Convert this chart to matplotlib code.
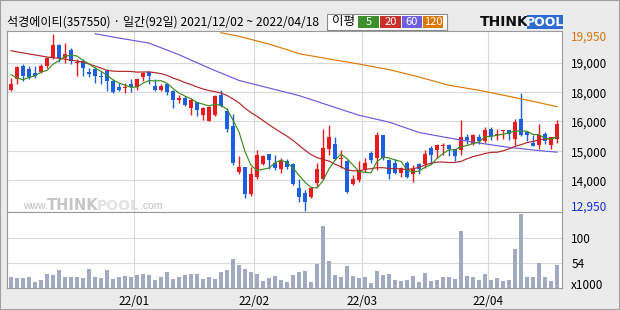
import numpy as np
import pandas as pd
import matplotlib
matplotlib.use("Agg")
import matplotlib.pyplot as plt
from matplotlib.patches import Rectangle
from matplotlib import transforms

plt.rcParams['font.family'] = ['Noto Sans CJK KR', 'DejaVu Sans']

# ============================================================
# DATA  (daily candles, 2021/12/02 ~ 2022/04/18, KRX trading days)
# ============================================================
HOLIDAYS = ["2021-12-31", "2022-01-31", "2022-02-01", "2022-02-02",
            "2022-03-01", "2022-03-09"]
dates = pd.bdate_range("2021-12-02", "2022-04-18")
dates = dates[~dates.isin(pd.to_datetime(HOLIDAYS))]

opens = [17750, 18150, 18700, 18550, 18400, 18450, 18700, 19050, 19500, 19000,
         19300, 18800, 18900, 18450, 18550, 18300, 18500, 18100, 17850, 17800,
         17950, 17850, 18250, 18450, 17900, 17750, 17950, 17700, 17350, 17400,
         17000, 17250, 16750, 16500, 16750, 17550, 16900, 16300, 14500, 14700,
         13600, 14300, 14800, 15200, 14850, 14600, 14900, 14800, 13850, 13650,
         13500, 14050, 14200, 15400, 15600, 15000, 14900, 14000, 14150, 14600,
         15250, 15050, 15950, 14950, 14850, 14450, 14850, 14400, 14800, 14800,
         15450, 15350, 15500, 15550, 15400, 15350, 15850, 15600, 15850, 15700,
         16200, 15950, 16100, 16150, 15800, 16600, 16050, 15650, 15550, 16000,
         15550, 15800]
highs = [18200, 18700, 18750, 18700, 18700, 18750, 19050, 19950, 19550, 19600,
         19400, 18950, 18950, 18600, 18650, 18500, 18550, 18150, 18000, 18000,
         18150, 18200, 18450, 18500, 18150, 17950, 18000, 17750, 17550, 17500,
         17400, 17250, 17050, 17100, 17550, 17750, 17000, 16800, 15100, 14700,
         14700, 15350, 15150, 15200, 15150, 15050, 15000, 14850, 14200, 13750,
         13900, 14850, 16200, 16350, 15850, 15350, 14950, 14350, 14900, 15050,
         15300, 16050, 15950, 15000, 15000, 14700, 14900, 14750, 14850, 15350,
         15500, 15600, 15650, 15600, 15400, 16550, 16000, 16000, 16000, 16250,
         16250, 16200, 16150, 16150, 16600, 17600, 16100, 15950, 16400, 16050,
         15850, 16550]
lows = [17700, 17950, 18100, 18150, 18200, 18400, 18600, 18950, 18850, 18800,
        18750, 18300, 18300, 18250, 18000, 17950, 17700, 17600, 17700, 17600,
        17650, 17750, 18100, 17950, 17700, 17700, 17550, 17000, 17200, 17100,
        16750, 16700, 16550, 16500, 16700, 17050, 16050, 14750, 14400, 13450,
        13550, 14200, 14750, 14600, 14550, 14450, 14600, 13950, 13300, 12950,
        13450, 13900, 14150, 15150, 14950, 14650, 13650, 13950, 14100, 14500,
        14850, 14550, 14950, 14200, 14400, 14300, 14250, 14100, 14400, 14650,
        14800, 15050, 15150, 15100, 14900, 15150, 15600, 15550, 15600, 15650,
        15750, 15750, 15800, 15750, 15550, 15900, 15700, 15500, 15400, 15600,
        15400, 15650]
closes = [17950, 18650, 18300, 18250, 18300, 18700, 19000, 19500, 19000, 19150,
          18900, 18850, 18600, 18350, 18300, 18250, 18100, 17650, 17750, 17850,
          17850, 18150, 18400, 18300, 17750, 17900, 17650, 17350, 17400, 17150,
          17350, 16950, 17000, 17050, 17500, 17100, 16200, 14850, 14700, 13600,
          14400, 15150, 15100, 14950, 14650, 14900, 14700, 14000, 13500, 13300,
          13850, 14600, 15450, 15850, 15000, 15050, 13700, 14200, 14550, 14850,
          14950, 15950, 15050, 14400, 14450, 14650, 14300, 14600, 14600, 15200,
          15150, 15550, 15550, 15400, 15100, 15850, 15750, 15950, 15700, 16150,
          15900, 16000, 16150, 16000, 16450, 15950, 15950, 15500, 15950, 15700,
          15850, 16400]
# volume, x1000 shares
volume = [21, 19, 19, 21, 11, 15, 28, 25, 35, 21,
          21, 21, 19, 37, 21, 19, 35, 18, 22, 24,
          22, 25, 28, 25, 15, 22, 31, 18, 22, 26,
          27, 27, 17, 21, 17, 31, 35, 57, 45, 37,
          31, 27, 13, 19, 23, 15, 11, 25, 31, 33,
          11, 47, 123, 53, 25, 21, 43, 23, 19, 21,
          9, 33, 25, 27, 15, 13, 15, 23, 11, 29,
          13, 15, 21, 21, 17, 113, 23, 21, 15, 27,
          15, 19, 13, 15, 77, 147, 21, 21, 49, 21,
          13, 45]

# moving averages: the first values depend on history before the window,
# so they are read off the chart
ma5_head = [18340, 18210, 18140, 18230]
ma20_head = [19290, 19240, 19200, 19160, 19120, 19080, 19040, 19010, 18990, 18950,
             18910, 18880, 18830, 18760, 18680, 18600, 18510, 18480, 18470]
ma60_idx = [14, 18, 23, 28, 33, 38, 43, 48, 53, 58, 63, 68, 73, 78, 83, 88, 91]
ma60_val = [19960, 19790, 19590, 19130, 18600, 18110, 17810, 17510, 17120, 16730,
            16460, 16050, 15830, 15630, 15460, 15330, 15270]
ma120_idx = [35, 38, 43, 46, 48, 53, 58, 63, 68, 69, 73, 78, 83, 88, 91]
ma120_val = [20000, 19860, 19550, 19330, 19170, 18960, 18760, 18540, 18250, 18180,
             17920, 17720, 17480, 17230, 17070]

# axis labels as printed on the chart
grid_levels = [18800, 17640, 16490, 15300, 14150]
grid_labels = ["19,000", "18,000", "16,000", "15,000", "14,000"]
vol_levels = [100, 50]
vol_labels = ["100", "54"]

TITLE = "석경에이티(357550) · 일간(92일) 2021/12/02 ~ 2022/04/18"

# ============================================================
# STYLE
# ============================================================
BG = "#ebebeb"
RED = "#ea1a1e"
BLUE = "#1d5fe2"
GRID = "#d9d9d9"
SPINE = "#9a9a9a"
C_MA5 = "#3a8c1c"
C_MA20 = "#b2262a"
C_MA60 = "#6a5ade"
C_MA120 = "#e07800"
VOLC = "#a1aac0"
FS = 8.5
LW = 0.85

W, H = 620, 310


def fig_box(x0, y0, x1, y1):
    """pixel box (top-left origin) -> figure fraction rect"""
    return [x0 / W, 1 - y1 / H, (x1 - x0) / W, (y1 - y0) / H]


fig = plt.figure(figsize=(6.2, 3.1), dpi=100, facecolor=BG)
ax = fig.add_axes(fig_box(7, 31.3, 562.3, 212.3))
axv = fig.add_axes(fig_box(7, 212.3, 562.3, 287.7), sharex=ax)

x = np.arange(len(dates))
o, h, l, c = map(np.array, (opens, highs, lows, closes))

# month boundaries for vertical grid + date labels
months = dates.month
new_month = np.where(months[1:] != months[:-1])[0]
bounds = new_month + 0.5
bound_labels = [f"{d:%y/%m}" for d in dates[new_month + 1]]

for a in (ax, axv):
    a.set_facecolor("white")
    for s in a.spines.values():
        s.set_color(SPINE)
        s.set_linewidth(0.8)
    a.set_xticks(bounds)
    a.grid(True, color=GRID, lw=0.8)
    a.set_axisbelow(True)
    a.yaxis.tick_right()
    a.tick_params(length=0, labelsize=FS, pad=6.5)

ax.set_xlim(-0.667, 91.88)
ax.set_ylim(12886, 20057)
ax.set_yticks(grid_levels)
ax.set_yticklabels(grid_labels)
ax.tick_params(axis="x", labelbottom=False)

# watermark (behind the candles)
def ax_px(px, py):
    return ((px - 7) / 555.3, (212.3 - py) / 181)

wm = dict(transform=ax.transAxes, va="baseline", zorder=0.5)
ax.text(*ax_px(23, 209), "www.", color="#bdbdbd", fontsize=7.5,
        family="Liberation Sans", **wm)
ax.text(*ax_px(47, 210), "THINK", color="#c6c6c6", fontsize=10.5,
        family="DejaVu Sans", weight="bold", **wm)
ax.text(*ax_px(97, 210), "POOL", color="#e2e2e2", fontsize=10,
        family="DejaVu Sans", weight="bold", **wm)
ax.text(*ax_px(140, 209), ".com", color="#bdbdbd", fontsize=7.5,
        family="Liberation Sans", **wm)

# candles
col = np.where(c >= o, RED, BLUE)
ax.vlines(x, l, h, colors=col, lw=1.0, zorder=2)
body = np.maximum(np.abs(c - o), 45)
ax.bar(x, body, bottom=np.minimum(o, c), width=0.78, color=col, lw=0, zorder=2)

# moving averages
close_s = pd.Series(closes, dtype=float)
ma5 = close_s.rolling(5).mean().to_numpy()
ma5[:4] = ma5_head
ma20 = close_s.rolling(20).mean().to_numpy()
ma20[:19] = ma20_head
ax.plot(ma120_idx, ma120_val, color=C_MA120, lw=LW, zorder=3)
ax.plot(ma60_idx, ma60_val, color=C_MA60, lw=LW, zorder=3)
ax.plot(x, ma20, color=C_MA20, lw=LW, zorder=3)
ax.plot(x, ma5, color=C_MA5, lw=LW, zorder=3)

# max / min labels
tr = transforms.blended_transform_factory(ax.transAxes, ax.transData)
ax.annotate(f"{max(highs):,}", xy=(1, max(highs)), xycoords=tr, xytext=(6.5, -2.4),
            textcoords="offset points", color="#d9730d", fontsize=FS,
            va="center", ha="left", annotation_clip=False)
ax.annotate(f"{min(lows):,}", xy=(1, min(lows)), xycoords=tr, xytext=(6.5, 2.9),
            textcoords="offset points", color="#1530d0", fontsize=FS,
            va="center", ha="left", annotation_clip=False)

# volume
axv.bar(x, volume, width=0.8, color=VOLC, lw=0, zorder=2)
axv.set_ylim(0, 150.8)
axv.set_yticks(vol_levels)
axv.set_yticklabels(vol_labels)
axv.set_xticklabels(bound_labels)
axv.tick_params(axis="x", pad=5, labelsize=FS)
trv = transforms.blended_transform_factory(axv.transAxes, axv.transData)
axv.annotate("x1000", xy=(1, 0), xycoords=trv, xytext=(6.5, 1.5),
             textcoords="offset points", fontsize=FS, va="center", ha="left",
             annotation_clip=False)

# header: title, MA legend, logo
fig.text(7 / W, 1 - 22.5 / H, TITLE, fontsize=8.7, va="center", ha="left")


def fig_rect(x0, y0, x1, y1, **kw):
    fig.add_artist(Rectangle((x0 / W, 1 - y1 / H), (x1 - x0) / W, (y1 - y0) / H,
                             transform=fig.transFigure, **kw))


fig_rect(327, 14, 447, 29.6, facecolor="white", edgecolor="#8c8c8c", lw=0.8)
fig.text(332 / W, 1 - 22 / H, "이평", fontsize=9, va="center", ha="left")
legend_boxes = [(358, 379, "#3c8f2a", "5"), (380, 401, "#c8302c", "20"),
                (402, 422, "#6d5fdf", "60"), (423, 443, "#dd7700", "120")]
for x0, x1, fc, lab in legend_boxes:
    fig_rect(x0, 16, x1, 28, facecolor=fc, edgecolor="none")
    fig.text((x0 + x1) / 2 / W, 1 - 22.3 / H, lab, color="white", fontsize=8,
             va="center", ha="center")

fig.text(480 / W, 1 - 22 / H, "THINK", fontsize=10, weight="bold",
         family="DejaVu Sans", va="center", ha="left", color="#111111")
fig_rect(527, 15, 563, 28.6, facecolor="#2f6bd1", edgecolor="none")
fig.text(545 / W, 1 - 22 / H, "POOL", fontsize=9, weight="bold",
         family="DejaVu Sans", va="center", ha="center", color="white")

# outer frame
fig_rect(0, 0, W, H, facecolor="none", edgecolor="#a0a0a0", lw=1.5)

fig.savefig("out.png", dpi=100, facecolor=BG)
